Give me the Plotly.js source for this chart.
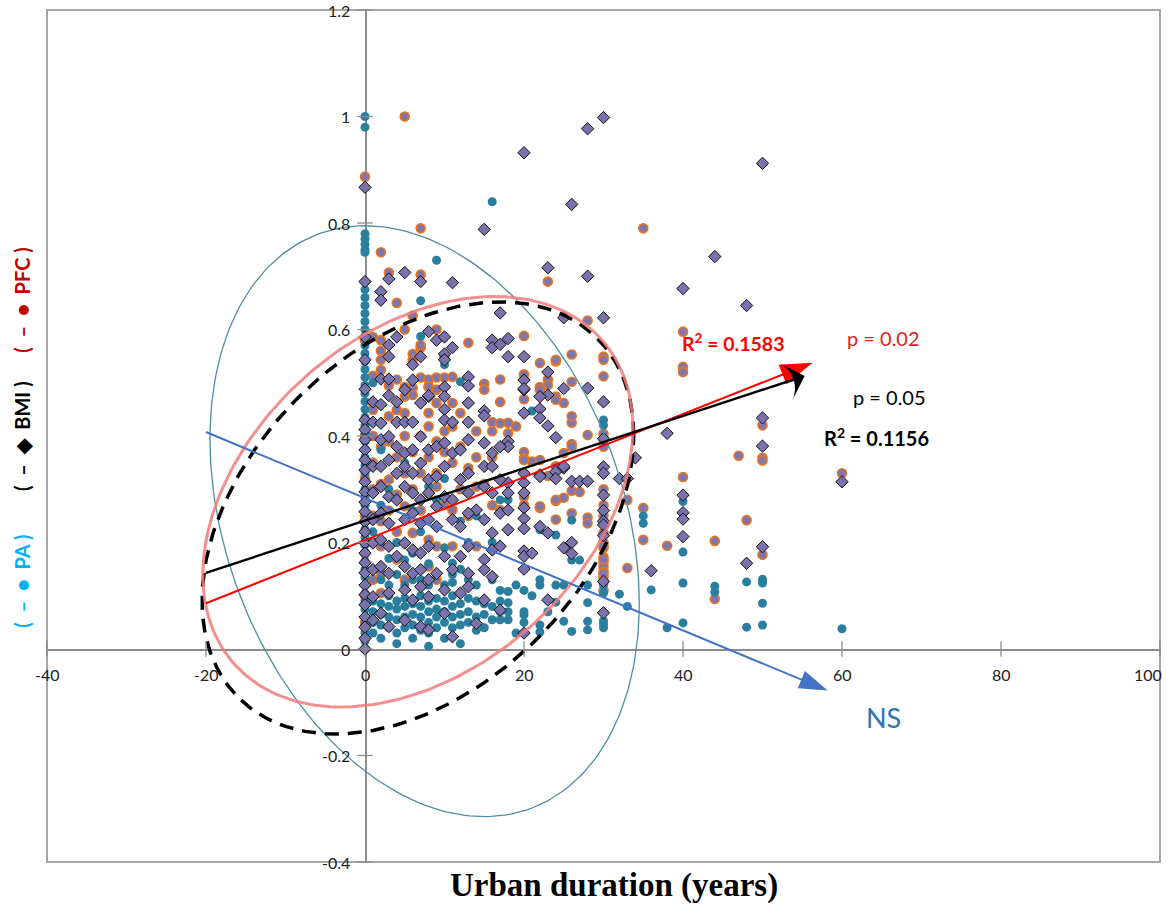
<!DOCTYPE html>
<html><head><meta charset="utf-8">
<script src="https://cdn.plot.ly/plotly-3.0.1.min.js"></script>
<style>html,body{margin:0;padding:0;background:#fff}</style>
</head><body>
<div id="chart" style="width:1170px;height:910px"></div>
<script>
const xTickVals = [-40,-20,0,20,40,60,80,100];
const xTickText = ['-40','-20','0','20','40','60','80','100'];
const yTickVals = [-0.4,-0.2,0,0.2,0.4,0.6,0.8,1,1.2];
const yTickText = ['-0.4','-0.2','0','0.2','0.4','0.6','0.8','1','1.2'];

// PA (teal circles): [urban duration, value]
const paPoints = [
[0,1.0],[0,0.98],[0,0.78],[0,0.77],[0,0.76],[0,0.75],[0,0.745],
[0,0.69],[0,0.675],[0,0.66],[0,0.645],[0,0.63],[0,0.615],[0,0.60],[0,0.585],[0,0.57],[0,0.555],[0,0.54],[0,0.525],[0,0.51],[0,0.495],[0,0.48],[0,0.465],[0,0.45],[0,0.435],[0,0.42],[0,0.405],[0,0.39],[0,0.375],[0,0.36],[0,0.345],[0,0.33],[0,0.315],[0,0.30],[0,0.285],[0,0.27],[0,0.255],[0,0.24],[0,0.225],[0,0.21],[0,0.195],[0,0.18],[0,0.165],[0,0.15],[0,0.135],[0,0.12],[0,0.105],[0,0.09],[0,0.075],[0,0.06],[0,0.045],[0,0.03],[0,0.015],[0,0.0],
[16,0.84],[9,0.73],[7,0.654],[7,0.587],[10,0.534],[1,0.5],[12,0.502],[21,0.447],[30,0.42],[30,0.43],
[1,0.09],[1,0.07],[1,0.05],[1,0.03],[2,0.085],[2,0.065],[2,0.045],[2,0.02],[3,0.1],[3,0.08],[3,0.06],[3,0.04],
[4,0.09],[4,0.075],[4,0.055],[4,0.03],[4,0.01],[5,0.095],[5,0.08],[5,0.06],[5,0.04],[6,0.085],[6,0.065],[6,0.045],[6,0.02],
[7,0.1],[7,0.08],[7,0.06],[7,0.035],[8,0.09],[8,0.07],[8,0.05],[8,0.03],[8,0.005],[9,0.095],[9,0.075],[9,0.06],[9,0.04],
[10,0.09],[10,0.07],[10,0.05],[10,0.02],[11,0.1],[11,0.08],[11,0.06],[11,0.04],[12,0.085],[12,0.065],[12,0.045],[12,0.01],
[13,0.095],[13,0.07],[13,0.05],[14,0.09],[14,0.06],[14,0.035],[15,0.085],[15,0.065],[15,0.04],[16,0.08],[16,0.055],[17,0.11],[17,0.09],[17,0.07],[17,0.055],
[1,0.15],[1,0.22],[2,0.13],[2,0.27],[3,0.17],[3,0.12],[4,0.2],[4,0.14],[5,0.167],[5,0.12],[6,0.18],[6,0.13],[7,0.13],[7,0.22],[8,0.16],[8,0.12],
[9,0.28],[9,0.14],[10,0.19],[10,0.12],[11,0.161],[11,0.14],[11,0.125],[12,0.24],[12,0.15],[13,0.13],[13,0.2],[14,0.12],[15,0.242],[15,0.15],[16,0.13],
[17,0.28],[18,0.28],[16,0.2],[14,0.25],[2,0.374],[5,0.35],[8,0.305],[10,0.32],[3,0.3],[6,0.26],
[19,0.12],[20,0.11],[20,0.064],[20,0.05],[20,0.07],[18,0.087],[18,0.07],[18,0.055],[18,0.108],[22,0.224],[24,0.214],[26,0.242],[25,0.19],
[22,0.13],[22,0.12],[24,0.12],[25,0.12],[28,0.12],[24,0.088],[28,0.087],[25,0.052],[26,0.033],[28,0.052],[28,0.036],[22,0.045],[22,0.032],
[26,0.167],[27,0.167],[30,0.12],[30,0.105],[30,0.053],[30,0.047],[30,0.04],[33,0.08],[36,0.111],[35,0.25],[35,0.236],[38,0.04],
[40,0.277],[40,0.182],[40,0.124],[40,0.049],[44,0.118],[44,0.107],[48,0.126],[48,0.041],[50,0.131],[50,0.124],[50,0.086],[50,0.045],[60,0.038],
[32,0.103],[21,0.1],[23,0.07],[19,0.03]
];

// PFC (orange-ringed circles)
const pfcPoints = [
[5,1.0],[0,0.887],[7,0.79],[2,0.745],[23,0.69],[35,0.79],[3,0.707],[7,0.703],[4,0.65],[6,0.626],[28,0.617],[40,0.596],[40,0.53],[40,0.52],
[50,0.42],[50,0.359],[50,0.354],[47,0.363],[60,0.33],[40,0.323],[35,0.265],[35,0.205],[38,0.194],[33,0.152],[44,0.203],[44,0.094],[48,0.242],[50,0.177],[26,0.297],
[1,0.586],[9,0.6],[13,0.575],[20,0.588],[2,0.58],[2,0.56],[6,0.554],[6,0.543],[7,0.566],[1,0.513],[3,0.495],[5,0.492],[7,0.51],[8,0.492],[9,0.51],[10,0.51],[11,0.511],
[15,0.498],[15,0.487],[20,0.516],[20,0.469],[5,0.474],[4,0.449],[9,0.462],[11,0.462],[17,0.464],[3,0.437],[5,0.443],[8,0.443],[12,0.443],[16,0.426],
[22,0.537],[24,0.54],[30,0.549],[30,0.543],[30,0.512],[20,0.515],[23,0.506],[23,0.496],[26,0.502],[22,0.492],[24,0.474],[25,0.462],[26,0.425],[28,0.402],[26,0.385],[18,0.425],
[20,0.37],[20,0.358],[21,0.352],[30,0.404],[30,0.395],[25,0.368],[26,0.38],[23,0.325],[27,0.295],[24,0.278],[25,0.284],[22,0.265],[20,0.27],[28,0.247],
[30,0.30],[30,0.27],[30,0.25],[30,0.2],[30,0.19],[30,0.173],[30,0.163],[30,0.154],[30,0.145],[30,0.135],[30,0.125],[30,0.11],
[5,0.60],[7,0.571],[10,0.549],[24,0.543],[26,0.553],[17,0.506],[22,0.487],[24,0.468],[26,0.437],[17,0.424],[19,0.418],[8,0.506],[8,0.493],[9,0.487],[6,0.49],[6,0.477],[4,0.506],[2,0.543],[2,0.524],[1,0.462],[1,0.449],
[8,0.418],[10,0.409],[11,0.418],[14,0.409],[16,0.409],[18,0.405],[20,0.355],[22,0.355],[24,0.343],[30,0.38],[33,0.28],
[3,0.318],[5,0.268],[8,0.293],[9,0.305],[11,0.261],[14,0.305],[17,0.261],[20,0.286],[22,0.268],[24,0.243],[26,0.255],[28,0.236],[30,0.218],[30,0.193],[30,0.168],[30,0.142],
[6,0.218],[8,0.205],[9,0.193],[4,0.168],[8,0.155],[11,0.193],[14,0.193],[2,0.193],[2,0.142],[1,0.13],[2,0.105],[9,0.13],[5,0.13],[24,0.28],
[1,0.4],[1,0.35],[1,0.3],[1,0.25],[1,0.2],[2,0.38],[2,0.31],[2,0.24],[3,0.39],[3,0.26],[4,0.36],[4,0.29],[4,0.22],[5,0.4],[5,0.33],[6,0.37],[6,0.3],
[7,0.4],[7,0.33],[7,0.26],[8,0.36],[9,0.39],[9,0.33],[10,0.37],[10,0.27],[11,0.35],[12,0.38],[12,0.3],[13,0.34],[13,0.25],[14,0.36],[15,0.31],[16,0.36],[16,0.27],
[0,0.4],[0,0.32],[0,0.25],[0,0.18],[0,0.1],[0,0.05],[0,0.58]
];

// BMI (purple diamonds)
const bmiPoints = [
[0,0.867],[20,0.932],[28,0.977],[30,0.998],[26,0.835],[15,0.788],[23,0.716],[28,0.70],[50,0.912],[44,0.737],[40,0.677],[48,0.645],[30,0.622],[25,0.622],[17,0.631],
[5,0.707],[3,0.695],[7,0.69],[11,0.688],[0,0.69],[2,0.671],[2,0.655],
[0,0.586],[4,0.586],[8,0.596],[9,0.58],[10,0.586],[16,0.58],[18,0.583],[16,0.566],[17,0.572],[3,0.571],[11,0.566],[3,0.549],[7,0.549],[10,0.554],[10,0.543],[6,0.534],[0,0.543],[18,0.549],[20,0.549],
[2,0.507],[3,0.507],[6,0.505],[8,0.474],[10,0.492],[13,0.511],[13,0.494],[20,0.505],[20,0.487],[0,0.488],[1,0.464],[2,0.459],[3,0.476],[4,0.464],[5,0.487],[7,0.462],[8,0.476],[10,0.474],[10,0.45],
[13,0.462],[15,0.447],[15,0.438],[0,0.43],[1,0.426],[2,0.424],[4,0.426],[5,0.426],[6,0.426],[10,0.43],[11,0.426],[13,0.426],[20,0.443],[23,0.52],[20,0.489],[25,0.489],[28,0.49],[23,0.477],[22,0.474],
[30,0.464],[22,0.451],[22,0.434],[23,0.419],[30,0.395],[24,0.397],[18,0.39],[18,0.38],
[38,0.405],[50,0.434],[50,0.381],[60,0.314],[34,0.359],[32,0.32],[33,0.32],[26,0.315],[27,0.315],[28,0.315],[30,0.342],[30,0.33],[30,0.289],[30,0.26],[30,0.24],[30,0.233],[30,0.213],[30,0.127],[30,0.068],
[40,0.289],[40,0.256],[40,0.244],[40,0.211],[48,0.161],[50,0.192],[36,0.147],[22,0.327],[24,0.333],[25,0.34],[24,0.32],[20,0.312],[18,0.312],[18,0.293],[20,0.293],[20,0.265],[20,0.245],[20,0.226],[20,0.184],[20,0.15],
[26,0.2],[26,0.179],[25,0.19],[23,0.092],[20,0.03],
[0,0.412],[0,0.393],[0,0.374],[0,0.355],[0,0.336],[0,0.314],[0,0.295],[0,0.276],[0,0.258],[0,0.239],[0,0.22],[0,0.199],[0,0.18],[0,0.162],[0,0.143],[0,0.12],[0,0.102],[0,0.083],[0,0.06],[0,0.041],[0,0.02],[0,0.0],
[2,0.393],[3,0.399],[4,0.38],[5,0.368],[6,0.374],[7,0.399],[8,0.374],[9,0.38],[10,0.387],[11,0.368],[12,0.374],[13,0.393],[15,0.387],[16,0.368],[17,0.38],
[1,0.343],[2,0.343],[3,0.355],[4,0.33],[5,0.343],[6,0.33],[7,0.349],[8,0.318],[9,0.324],[10,0.343],[12,0.318],[13,0.33],[15,0.343],[16,0.343],[17,0.318],[20,0.33],[22,0.324],[25,0.343],
[1,0.293],[2,0.305],[3,0.286],[4,0.28],[5,0.305],[6,0.293],[7,0.28],[8,0.293],[9,0.268],[10,0.286],[11,0.28],[13,0.293],[14,0.261],[15,0.305],[16,0.293],[17,0.255],[18,0.261],
[1,0.243],[2,0.255],[3,0.236],[5,0.243],[6,0.255],[7,0.236],[8,0.243],[9,0.23],[11,0.243],[12,0.23],[13,0.255],[15,0.243],[16,0.218],[18,0.224],[22,0.23],[23,0.218],
[1,0.199],[2,0.205],[3,0.193],[4,0.174],[5,0.199],[6,0.186],[7,0.18],[8,0.193],[10,0.174],[12,0.174],[13,0.193],[15,0.168],[16,0.186],[17,0.193],[20,0.174],[21,0.18],
[1,0.149],[2,0.155],[3,0.142],[5,0.155],[6,0.142],[7,0.149],[8,0.13],[9,0.142],[11,0.149],[13,0.142],[15,0.149],[16,0.136],
[1,0.098],[3,0.105],[5,0.111],[6,0.092],[7,0.117],[8,0.098],[10,0.111],[12,0.105],[13,0.117],[15,0.092],[17,0.073],
[1,0.054],[2,0.067],[3,0.042],[5,0.054],[7,0.042],[8,0.036],[10,0.067],[11,0.023],[14,0.048]
];

// trend arrows: [tail x, tail y, head (tip) x, head (tip) y]
const paTrend  = [-20, 0.4075, 58.2, -0.078];
const bmiTrend = [-20, 0.143, 55.3, 0.5127];
const pfcTrend = [-20, 0.086, 56.3, 0.5377];

// ellipses: [cx, cy, a, c, d]  x = cx + a cos t ; y = cy + c cos t + d sin t
const paEllipse  = [7.5, 0.24, 27, -0.154, 0.533];
const pfcEllipse = [6.65, 0.2765, 27.05, 0.1375, 0.36];
const bmiEllipse = [6.65, 0.246, 27.15, 0.155, 0.375];

function ellipse(p){
  const xs=[], ys=[];
  for(let i=0;i<=240;i++){
    const t = 2*Math.PI*i/240;
    xs.push(p[0] + p[2]*Math.cos(t));
    ys.push(p[1] + p[3]*Math.cos(t) + p[4]*Math.sin(t));
  }
  return {x:xs, y:ys};
}
const eP = ellipse(paEllipse), eF = ellipse(pfcEllipse), eB = ellipse(bmiEllipse);

function trend(tr, color, w, headSize, sym){
  return {type:'scatter', mode:'lines+markers', x:[tr[0], tr[2]], y:[tr[1], tr[3]],
    line:{color:color, width:w}, cliponaxis:false,
    marker:{symbol:sym, angleref:'previous', size:[0, headSize], color:color, opacity:1, line:{width:0}}, hoverinfo:'skip'};
}

const traces = [
  {type:'scatter', mode:'markers', x:pfcPoints.map(p=>p[0]), y:pfcPoints.map(p=>p[1]),
   marker:{symbol:'circle', size:9, color:'#7f76ae', line:{color:'#e8741e', width:1.6}}, hoverinfo:'skip'},
  {type:'scatter', mode:'markers', x:paPoints.map(p=>p[0]), y:paPoints.map(p=>p[1]),
   marker:{symbol:'circle', size:9, color:'#2a7f9f', line:{width:0}}, hoverinfo:'skip'},
  {type:'scatter', mode:'markers', x:bmiPoints.map(p=>p[0]), y:bmiPoints.map(p=>p[1]),
   marker:{symbol:'diamond', size:9.5, color:'#7a72ad', line:{color:'#111', width:1}}, hoverinfo:'skip'},
  {type:'scatter', mode:'lines', x:eP.x, y:eP.y, line:{color:'#4d8ea4', width:1.3}, hoverinfo:'skip'},
  {type:'scatter', mode:'lines', x:eB.x, y:eB.y, line:{color:'#000', width:3.5, dash:'14px,9px'}, hoverinfo:'skip'},
  {type:'scatter', mode:'lines', x:eF.x, y:eF.y, line:{color:'#f27c7c', width:3}, opacity:0.85, hoverinfo:'skip'},
  trend(paTrend, '#4472c4', 2, 30, 'arrow'),
  trend(pfcTrend, '#ff0000', 2, 34, 'arrow'),
  trend(bmiTrend, '#000000', 2.4, 28, 'arrow-wide'),
  // tick marks on the crossing axes
  {type:'scatter', mode:'markers', x:xTickVals, y:xTickVals.map(()=>0), cliponaxis:false,
   marker:{symbol:'line-ns', size:11, line:{color:'#8c8c8c', width:1.3}}, hoverinfo:'skip'},
  {type:'scatter', mode:'markers', x:yTickVals.map(()=>0), y:yTickVals, cliponaxis:false,
   marker:{symbol:'line-ew', size:11, line:{color:'#8c8c8c', width:1.3}}, hoverinfo:'skip'}
];

const lab = 'Lato, Calibri, "Open Sans", sans-serif';
const nb = '\u00A0';
const sp = nb + nb;
const annotations = [
  {x:39.6, y:0.5765, xref:'x', yref:'y', xanchor:'left', yanchor:'middle', showarrow:false,
   text:'<b>R<sup>2</sup> = 0.1583</b>', font:{family:lab, size:19.5, color:'#ff0000'}},
  {x:60.4, y:0.584, xref:'x', yref:'y', xanchor:'left', yanchor:'middle', showarrow:false,
   text:'p = 0.02', font:{family:lab, size:20, color:'#e02020'}},
  {x:61.1, y:0.473, xref:'x', yref:'y', xanchor:'left', yanchor:'middle', showarrow:false,
   text:'p = 0.05', font:{family:lab, size:20, color:'#000'}},
  {x:57.5, y:0.398, xref:'x', yref:'y', xanchor:'left', yanchor:'middle', showarrow:false,
   text:'<b>R<sup>2</sup> = 0.1156</b>', font:{family:lab, size:20, color:'#000'}},
  {x:65.2, y:-0.128, xref:'x', yref:'y', xanchor:'center', yanchor:'middle', showarrow:false,
   text:'NS', font:{family:lab, size:27, color:'#2e75b6'}},
  {x:0.509, y:0, xref:'paper', yref:'paper', xanchor:'center', yanchor:'middle', yshift:-23, showarrow:false,
   text:'<b>Urban duration (years)</b>', font:{family:'"Liberation Serif", "Times New Roman", serif', size:33, color:'#000'}},
  {x:-0.0225, y:0.33, xref:'paper', yref:'paper', xanchor:'center', yanchor:'middle', textangle:-90, showarrow:false,
   text:'<b>(' + sp + '–' + sp + '●' + sp + 'PA' + nb + ')</b>', font:{family:lab, size:20, color:'#00b0f0'}},
  {x:-0.0225, y:0.5, xref:'paper', yref:'paper', xanchor:'center', yanchor:'middle', textangle:-90, showarrow:false,
   text:'<b>(' + sp + '–' + sp + '◆' + sp + 'BMI' + nb + ')</b>', font:{family:lab, size:20, color:'#000'}},
  {x:-0.0225, y:0.66, xref:'paper', yref:'paper', xanchor:'center', yanchor:'middle', textangle:-90, showarrow:false,
   text:'<b>(' + sp + '–' + sp + '●' + sp + 'PFC' + nb + ')</b>', font:{family:lab, size:20, color:'#c00000'}}
];
// tick labels along the crossing axes
xTickVals.forEach((v,i)=>annotations.push({x:v, y:0, xref:'x', yref:'y',
  xanchor:(i===xTickVals.length-1 ? 'right' : 'center'), xshift:(i===xTickVals.length-1 ? 4 : 0),
  yanchor:'top', yshift:-14, showarrow:false, text:xTickText[i], font:{family:lab, size:16, color:'#222'}}));
yTickVals.forEach((v,i)=>annotations.push({x:0, y:v, xref:'x', yref:'y', xanchor:'right', yanchor:'middle', xshift:-13,
  showarrow:false, text:yTickText[i], font:{family:lab, size:16, color:'#222'}}));

const axisCommon = {showgrid:false, zeroline:false, showline:true, linecolor:'#8c8c8c', linewidth:1.5,
  ticks:'', showticklabels:false, anchor:'free', layer:'below traces', fixedrange:true};

const layout = {
  width:1170, height:910,
  margin:{l:47, r:10, t:10, b:48},
  paper_bgcolor:'#fff', plot_bgcolor:'#fff',
  showlegend:false,
  xaxis:Object.assign({}, axisCommon, {range:[-40,100], position:0.25}),
  yaxis:Object.assign({}, axisCommon, {range:[-0.4,1.2], position:40/140}),
  shapes:[{type:'rect', xref:'paper', yref:'paper', x0:0, x1:1, y0:0, y1:1, line:{color:'#a6a6a6', width:2}, layer:'below'}],
  annotations:annotations
};

Plotly.newPlot('chart', traces, layout, {displayModeBar:false, staticPlot:true});
</script>
</body></html>
